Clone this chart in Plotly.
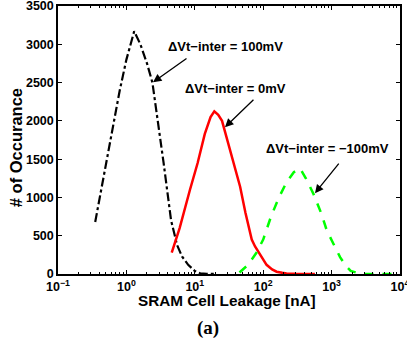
import plotly.graph_objects as go

# --- data ---
black_x = [0.35, 0.45, 0.6, 0.8, 1.0, 1.3, 1.6, 2.0, 2.4, 3.0, 3.5, 4.5, 5.5, 6.5, 8, 10, 12, 15, 20]
black_y = [680, 1200, 1800, 2400, 2800, 3170, 3000, 2750, 2500, 1900, 1450, 700, 380, 230, 120, 40, 10, 3, 0]

red_x = [4.6, 6.0, 8.5, 11, 14, 17, 19.3, 22, 25, 30, 35, 46, 55, 68, 76, 90, 112, 135, 157, 190, 220, 300, 420, 570]
red_y = [280, 600, 1100, 1450, 1830, 2050, 2125, 2080, 2000, 1750, 1530, 1140, 800, 450, 360, 250, 120, 60, 30, 15, 8, 3, 1, 0]

green_x = [45, 60, 80, 100, 130, 170, 220, 280, 345, 420, 540, 700, 850, 1100, 1330, 1600, 1900, 2500, 3000, 5000, 8000]
green_y = [20, 120, 280, 450, 750, 1000, 1200, 1330, 1380, 1250, 1050, 800, 570, 370, 220, 110, 40, 10, 0, 0, 0]

x_tickvals = [0.1, 1, 10, 100, 1000, 10000]
x_ticktext = ["10<sup>−1</sup>", "10<sup>0</sup>", "10<sup>1</sup>", "10<sup>2</sup>", "10<sup>3</sup>", "10<sup>4</sup>"]
minor_vals = [k * 10 ** d for d in range(-1, 4) for k in range(2, 10)]
y_tickvals = [0, 500, 1000, 1500, 2000, 2500, 3000, 3500]

labels = ["ΔVt−inter = 100mV", "ΔVt−inter = 0mV", "ΔVt−inter = −100mV"]

fig = go.Figure()
fig.add_trace(go.Scatter(x=black_x, y=black_y, mode="lines",
                         line=dict(color="black", width=2.2, dash="dashdot")))
fig.add_trace(go.Scatter(x=red_x, y=red_y, mode="lines",
                         line=dict(color="#ff0000", width=2.5)))
fig.add_trace(go.Scatter(x=green_x, y=green_y, mode="lines",
                         line=dict(color="#00ff00", width=2.5, dash="dash")))

sans = "Liberation Sans, Arial, sans-serif"
font_b = dict(family=sans, size=13, color="black")

# text labels (x given as log10 position on the log axis)
text_pos = [(1.456, 2977), (1.602, 2425), (2.933, 1643)]
for (tx, ty), t in zip(text_pos, labels):
    fig.add_annotation(x=tx, y=ty, xref="x", yref="y", text="<b>" + t + "</b>",
                       showarrow=False, font=font_b)

# arrows
arrows = [(0.389, 2503, 35, -25), (1.441, 1917, 30, -29), (2.757, 1056, 25, -31)]
for hx, hy, ax, ay in arrows:
    fig.add_annotation(x=hx, y=hy, xref="x", yref="y", text="", showarrow=True,
                       ax=ax, ay=ay, arrowhead=2, arrowsize=1.3, arrowwidth=1.3,
                       arrowcolor="black")

fig.add_annotation(x=0.494, y=-0.099, xref="paper", yref="paper",
                   text="<b>SRAM Cell Leakage [nA]</b>", showarrow=False,
                   font=dict(family=sans, size=15.3, color="black"), yanchor="middle")
fig.add_annotation(x=-0.123, y=0.473, xref="paper", yref="paper",
                   text="<b># of Occurance</b>", showarrow=False, textangle=-90,
                   font=dict(family=sans, size=16.5, color="black"), xanchor="center")
fig.add_annotation(x=0.439, y=-0.2, xref="paper", yref="paper",
                   text="<b>(a)</b>", showarrow=False,
                   font=dict(family="Liberation Serif, Times New Roman, serif", size=19, color="black"),
                   yanchor="middle")

fig.update_layout(
    width=407, height=345,
    margin=dict(l=58, r=7, t=6, b=71, autoexpand=False),
    paper_bgcolor="white", plot_bgcolor="white",
    showlegend=False,
    font=font_b,
)
fig.update_xaxes(type="log", range=[-1, 4], tickvals=x_tickvals,
                 ticktext=["<b>" + t + "</b>" for t in x_ticktext],
                 ticks="inside", ticklen=4, tickwidth=1, tickcolor="black",
                 minor=dict(tickvals=minor_vals, ticks="inside", ticklen=2, tickcolor="black"),
                 showline=True, linecolor="black", linewidth=1.5, mirror="ticks",
                 showgrid=False, zeroline=False, automargin=False,
                 ticklabeloverflow="allow",
                 tickfont=dict(family=sans, size=12.5, color="black"))
fig.update_yaxes(range=[0, 3500], tickvals=y_tickvals,
                 ticktext=["<b>%d</b>" % v for v in y_tickvals],
                 ticks="inside", ticklen=4, tickwidth=1, tickcolor="black",
                 showline=True, linecolor="black", linewidth=1.5, mirror="ticks",
                 showgrid=False, zeroline=False, automargin=False,
                 ticklabeloverflow="allow",
                 tickfont=dict(family=sans, size=12.5, color="black"))

fig.write_html("out.html", config={"displayModeBar": False},
               post_script="document.body.style.margin='0';document.body.style.padding='0';")
